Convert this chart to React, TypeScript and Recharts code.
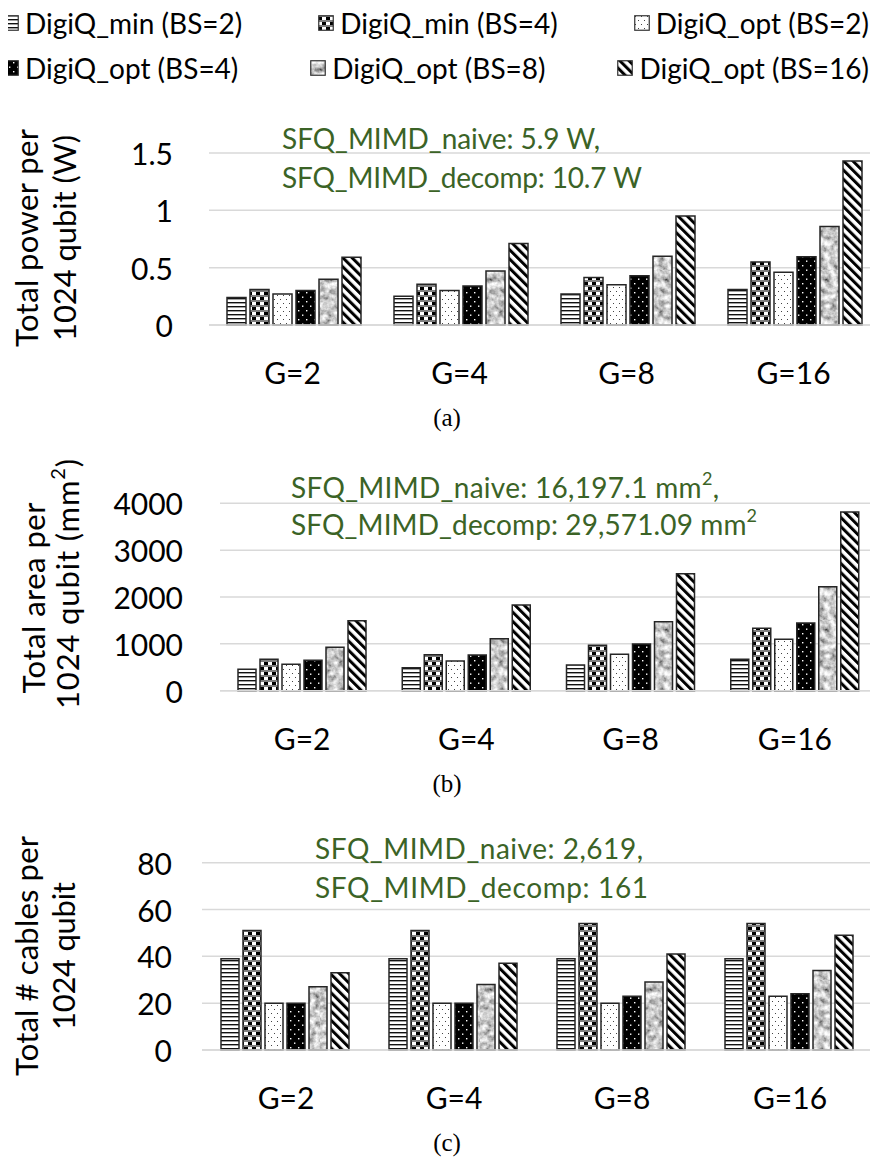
import React from 'react';
import { BarChart, Bar, XAxis, YAxis, CartesianGrid } from 'recharts';

// ---------- data ----------
const categories = ['G=2', 'G=4', 'G=8', 'G=16'];
const seriesKeys = ['minBS2', 'minBS4', 'optBS2', 'optBS4', 'optBS8', 'optBS16'];
const seriesNames = [
  'DigiQ_min (BS=2)',
  'DigiQ_min (BS=4)',
  'DigiQ_opt (BS=2)',
  'DigiQ_opt (BS=4)',
  'DigiQ_opt (BS=8)',
  'DigiQ_opt (BS=16)',
];

// (a) total power per 1024 qubit (W)
const powerMinBS2 = [0.24, 0.25, 0.27, 0.31];
const powerMinBS4 = [0.31, 0.355, 0.415, 0.55];
const powerOptBS2 = [0.27, 0.3, 0.35, 0.46];
const powerOptBS4 = [0.3, 0.34, 0.43, 0.595];
const powerOptBS8 = [0.4, 0.47, 0.6, 0.86];
const powerOptBS16 = [0.59, 0.71, 0.95, 1.43];
const powerTicks = [0, 0.5, 1, 1.5];

// (b) total area per 1024 qubit (mm^2)
const areaMinBS2 = [457, 491, 549, 670];
const areaMinBS4 = [670, 768, 969, 1332];
const areaOptBS2 = [563, 634, 777, 1097];
const areaOptBS4 = [649, 762, 997, 1445];
const areaOptBS8 = [926, 1110, 1473, 2220];
const areaOptBS16 = [1494, 1829, 2497, 3814];
const areaTicks = [0, 1000, 2000, 3000, 4000];

// (c) total # cables per 1024 qubit
const cableMinBS2 = [39, 39, 39, 39];
const cableMinBS4 = [51, 51, 54, 54];
const cableOptBS2 = [20, 20, 20, 23];
const cableOptBS4 = [20, 20, 23, 24];
const cableOptBS8 = [27, 28, 29, 34];
const cableOptBS16 = [33, 37, 41, 49];
const cableTicks = [0, 20, 40, 60, 80];

const buildRows = (series: number[][]) =>
  categories.map((c, i) => {
    const row: any = { category: c };
    seriesKeys.forEach((k, j) => (row[k] = series[j][i]));
    return row;
  });

const powerRows = buildRows([powerMinBS2, powerMinBS4, powerOptBS2, powerOptBS4, powerOptBS8, powerOptBS16]);
const areaRows = buildRows([areaMinBS2, areaMinBS4, areaOptBS2, areaOptBS4, areaOptBS8, areaOptBS16]);
const cableRows = buildRows([cableMinBS2, cableMinBS4, cableOptBS2, cableOptBS4, cableOptBS8, cableOptBS16]);

// ---------- styles ----------
const FONT = 'Lato, "Open Sans", sans-serif';
const GREEN = '#3B6326';
const GRID = '#d9d9d9';
const fills = seriesKeys.map((k) => `url(#pat-${k})`);

const Patterns = () => (
  <svg width={0} height={0} style={{ position: 'absolute' }}>
    <defs>
      <pattern id="pat-minBS2" patternUnits="userSpaceOnUse" width={4} height={4}>
        <rect width={4} height={4} fill="#fff" />
        <rect y={0} width={4} height={1.4} fill="#111" />
      </pattern>
      <pattern id="pat-minBS4" patternUnits="userSpaceOnUse" width={8} height={10}>
        <rect width={8} height={10} fill="#fff" />
        <rect y={0} width={8} height={2} fill="#808080" />
        <rect x={0} y={2} width={4} height={3} fill="#000" />
        <rect y={5} width={8} height={2} fill="#808080" />
        <rect x={4} y={7} width={4} height={3} fill="#000" />
      </pattern>
      <pattern id="pat-optBS2" patternUnits="userSpaceOnUse" width={6} height={8}>
        <rect width={6} height={8} fill="#fff" />
        <rect x={1} y={1} width={1} height={1} fill="#444" />
        <rect x={4} y={5} width={1} height={1} fill="#444" />
      </pattern>
      <pattern id="pat-optBS4" patternUnits="userSpaceOnUse" width={8} height={9}>
        <rect width={8} height={9} fill="#000" />
        <rect x={2} y={2} width={1.4} height={1.4} fill="#fff" />
        <rect x={6} y={6.5} width={1.4} height={1.4} fill="#fff" />
      </pattern>
      <filter id="marble" x="0" y="0" width="100%" height="100%">
        <feTurbulence type="fractalNoise" baseFrequency="0.16" numOctaves={3} seed={5} />
        <feColorMatrix
          type="matrix"
          values="1.4 0 0 0 -0.1  1.4 0 0 0 -0.1  1.4 0 0 0 -0.1  0 0 0 0 1"
        />
      </filter>
      <pattern id="pat-optBS8" patternUnits="userSpaceOnUse" width={80} height={80}>
        <rect width={80} height={80} fill="#9a9a9a" />
        <rect width={80} height={80} filter="url(#marble)" />
      </pattern>
      <pattern id="pat-optBS16" patternUnits="userSpaceOnUse" width={6.5} height={6.5} patternTransform="rotate(-45)">
        <rect width={6.5} height={6.5} fill="#fff" />
        <rect x={0} y={0} width={3} height={6.5} fill="#000" />
      </pattern>
    </defs>
  </svg>
);

const Legend = () => {
  const rows = [seriesNames.slice(0, 3), seriesNames.slice(3, 6)];
  return (
    <div style={{ position: 'absolute', left: 3, top: 0, width: 866 }}>
      {rows.map((r, ri) => (
        <div
          key={ri}
          style={{
            display: 'flex',
            justifyContent: 'space-between',
            alignItems: 'center',
            height: 45,
            fontFamily: FONT,
            fontSize: 28,
            color: '#000',
            whiteSpace: 'nowrap',
          }}
        >
          {r.map((name, ci) => {
            const idx = ri * 3 + ci;
            return (
              <div key={name} style={{ display: 'flex', alignItems: 'center', flexShrink: 0 }}>
                <svg width={16} height={16} style={{ marginRight: 6, flexShrink: 0, display: 'block' }}>
                  <rect x={0.75} y={0.75} width={14.5} height={14.5} fill={fills[idx]} stroke="#333" strokeWidth={1.2} />
                </svg>
                <span>{name}</span>
              </div>
            );
          })}
        </div>
      ))}
    </div>
  );
};

type PanelProps = {
  rows: any[];
  ticks: number[];
  top: number;
  height: number;
  marginTop: number;
  marginRight: number;
  plotLeft: number;
  xAxisHeight: number;
  tickRight: number;
  catOffset: number;
  catGap: number;
};

const Panel = ({ rows, ticks, top, height, marginTop, marginRight, plotLeft, xAxisHeight, tickRight, catOffset, catGap }: PanelProps) => (
  <div style={{ position: 'absolute', left: 0, top, width: 878, height }}>
    <BarChart
      width={878}
      height={height}
      data={rows}
      margin={{ top: marginTop, right: marginRight, left: 0, bottom: 0 }}
      barGap={4}
      barCategoryGap={catGap}
    >
      <CartesianGrid vertical={false} stroke={GRID} strokeWidth={1.5} />
      <XAxis
        dataKey="category"
        height={xAxisHeight}
        axisLine={{ stroke: GRID, strokeWidth: 1.5 }}
        tickLine={false}
        tickSize={0}
        tickMargin={0}
        interval={0}
        tick={(p: any) => (
          <text
            x={p.x}
            y={p.y + catOffset}
            textAnchor="middle"
            dominantBaseline="central"
            fontFamily={FONT}
            fontSize={30}
            fill="#000"
          >
            {p.payload.value}
          </text>
        )}
      />
      <YAxis
        width={plotLeft}
        domain={[ticks[0], ticks[ticks.length - 1]]}
        ticks={ticks}
        interval={0}
        axisLine={false}
        tickLine={false}
        tickSize={0}
        tickMargin={0}
        tick={(p: any) => (
          <text
            x={tickRight}
            y={p.y}
            textAnchor="end"
            dominantBaseline="central"
            fontFamily={FONT}
            fontSize={30}
            fill="#000"
          >
            {String(p.payload.value)}
          </text>
        )}
      />
      {seriesKeys.map((k, i) => (
        <Bar
          key={k}
          dataKey={k}
          name={seriesNames[i]}
          fill={fills[i]}
          stroke="#262626"
          strokeWidth={1.5}
          isAnimationActive={false}
        />
      ))}
    </BarChart>
  </div>
);

const Overlay = () => (
  <svg
    width={878}
    height={1164}
    style={{ position: 'absolute', left: 0, top: 0, pointerEvents: 'none' }}
    fontFamily={FONT}
  >
    {/* (a) */}
    <g fontSize={31} fill="#000" textAnchor="middle" dominantBaseline="central">
      <text transform="translate(26,238) rotate(-90)" textLength={218}>Total power per</text>
      <text transform="translate(64,238) rotate(-90)" textLength={206}>1024 qubit (W)</text>
    </g>
    <g fontSize={28} fill={GREEN} dominantBaseline="central">
      <text x={282} y={138} textLength={318}>SFQ_MIMD_naive: 5.9 W,</text>
      <text x={282} y={177} textLength={360}>SFQ_MIMD_decomp: 10.7 W</text>
    </g>
    <text x={447} y={417} textAnchor="middle" dominantBaseline="central" fontFamily='"Liberation Serif", serif' fontSize={25}>
      (a)
    </text>

    {/* (b) */}
    <g fontSize={31} fill="#000" textAnchor="middle" dominantBaseline="central">
      <text transform="translate(33,598) rotate(-90)" textLength={191}>Total area per</text>
      <text transform="translate(67,584) rotate(-90)" textLength={250}>
        1024 qubit (mm<tspan fontSize={20} dy={-10}>2</tspan>
        <tspan dy={10}>)</tspan>
      </text>
    </g>
    <g fontSize={28} fill={GREEN} dominantBaseline="central">
      <text x={291} y={487} textLength={428}>
        SFQ_MIMD_naive: 16,197.1 mm<tspan fontSize={18} dy={-9}>2</tspan>
        <tspan dy={9}>,</tspan>
      </text>
      <text x={291} y={524} textLength={466}>
        SFQ_MIMD_decomp: 29,571.09 mm<tspan fontSize={18} dy={-9}>2</tspan>
      </text>
    </g>
    <text x={447} y={783} textAnchor="middle" dominantBaseline="central" fontFamily='"Liberation Serif", serif' fontSize={25}>
      (b)
    </text>

    {/* (c) */}
    <g fontSize={31} fill="#000" textAnchor="middle" dominantBaseline="central">
      <text transform="translate(26,956) rotate(-90)" textLength={240}>Total # cables per</text>
      <text transform="translate(63,956) rotate(-90)" textLength={148}>1024 qubit</text>
    </g>
    <g fontSize={28} fill={GREEN} dominantBaseline="central">
      <text x={315} y={848} textLength={328}>SFQ_MIMD_naive: 2,619,</text>
      <text x={315} y={887} textLength={333}>SFQ_MIMD_decomp: 161</text>
    </g>
    <text x={447} y={1142} textAnchor="middle" dominantBaseline="central" fontFamily='"Liberation Serif", serif' fontSize={25}>
      (c)
    </text>
  </svg>
);

export default function App() {
  return (
    <div style={{ position: 'relative', margin: '-8px 0 0 -8px', width: 878, height: 1164, background: '#fff', overflow: 'hidden' }}>
      <Patterns />
      <Legend />
      {/* (a): plot 153..325, x 209..877 */}
      <Panel rows={powerRows} ticks={powerTicks} top={110} height={300} marginTop={43} marginRight={1} plotLeft={209} xAxisHeight={85} tickRight={173} catOffset={47} catGap={18} />
      {/* (b): plot 503..691, x 220..877 */}
      <Panel rows={areaRows} ticks={areaTicks} top={460} height={310} marginTop={43.3} marginRight={1} plotLeft={220} xAxisHeight={79.3} tickRight={183} catOffset={47} catGap={18} />
      {/* (c): plot 862.7..1050, x 202..874 */}
      <Panel rows={cableRows} ticks={cableTicks} top={820} height={305} marginTop={42.7} marginRight={4} plotLeft={202} xAxisHeight={75} tickRight={172} catOffset={47} catGap={19} />
      <Overlay />
    </div>
  );
}
